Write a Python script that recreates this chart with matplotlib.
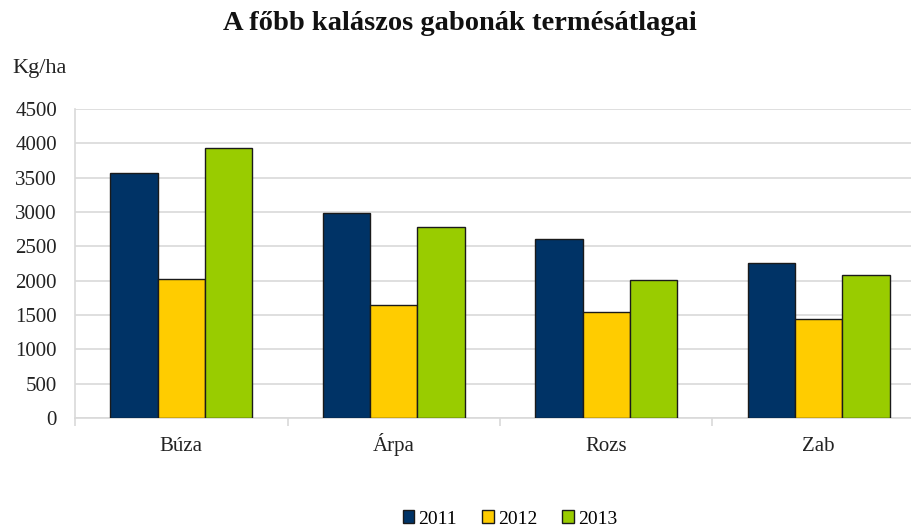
import numpy as np
import matplotlib
matplotlib.use('Agg')
import matplotlib.pyplot as plt
import matplotlib.transforms as mtransforms

categories = ['Búza', 'Árpa', 'Rozs', 'Zab']
years = ['2011', '2012', '2013']
yield_2011 = [3570, 2985, 2610, 2260]
yield_2012 = [2020, 1640, 1540, 1435]
yield_2013 = [3930, 2780, 2010, 2085]
colors = ['#003366', '#FFCC00', '#99CC00']

plt.rcParams['font.family'] = ['Liberation Serif', 'DejaVu Serif']

fig = plt.figure(figsize=(9.12, 5.29), dpi=100)
ax = fig.add_axes([75 / 912, 1 - 418 / 529, 850 / 912, 309 / 529])

x = np.arange(len(categories))
w = 0.223
for i, (vals, lab) in enumerate(zip([yield_2011, yield_2012, yield_2013], years)):
    ax.bar(x + (i - 1) * w, vals, w, color=colors[i], edgecolor='#1a1a1a',
           linewidth=1.0, label=lab, zorder=3)

ax.set_xlim(-0.5, len(categories) - 0.5)
ax.set_ylim(0, 4500)
ax.set_yticks(range(0, 4501, 500))
ax.yaxis.grid(True, color='#D9D9D9', linewidth=1.2, zorder=0)
ax.tick_params(axis='y', length=0, labelsize=15, pad=13, colors='#222222')

# category labels on a common baseline (accented Á would shift a top-aligned label)
ax.set_xticks(x)
ax.set_xticklabels([])
trans = mtransforms.blended_transform_factory(ax.transData, fig.transFigure)
for xi, name in zip(x, categories):
    ax.text(xi, 1 - 451 / 529, name, transform=trans, ha='center', va='baseline',
            fontsize=15, color='#222222')
ax.set_xticks(np.arange(-0.5, len(categories), 1), minor=True)
ax.tick_params(axis='x', which='major', length=0)
ax.tick_params(axis='x', which='minor', length=6, color='#D9D9D9', width=1.2)

for s in ['top', 'right']:
    ax.spines[s].set_visible(False)
for s in ['left', 'bottom']:
    ax.spines[s].set_color('#D9D9D9')
    ax.spines[s].set_linewidth(1.2)

fig.text(460 / 912, 1 - 23 / 529, 'A főbb kalászos gabonák termésátlagai',
         ha='center', va='center', fontsize=20.5, fontweight='bold', color='#111111')
fig.text(12 / 912, 1 - 68 / 529, 'Kg/ha', ha='left', va='center', fontsize=16, color='#222222')

fig.legend(loc='center', bbox_to_anchor=(510 / 912, 1 - 519 / 529), ncol=3,
           frameon=False, fontsize=14, handlelength=0.6, handleheight=0.6,
           handletextpad=0.2, columnspacing=1.3)

fig.savefig('out.png', dpi=100)
